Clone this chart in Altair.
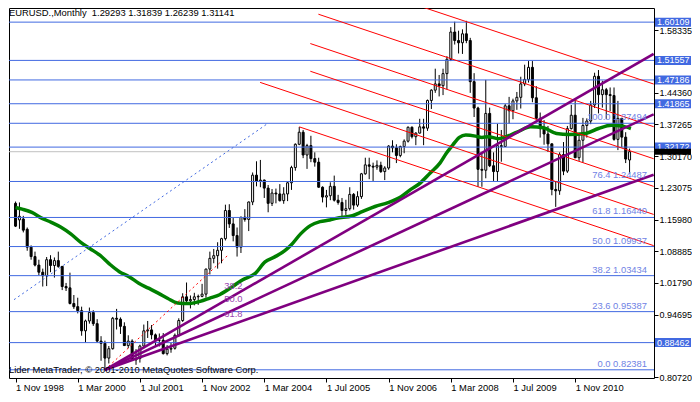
import altair as alt
import pandas as pd

FONT = "Liberation Sans"

# ---- monthly candles, month index 0 = Nov 1998 ... 158 = Jan 2012 ----
opens = [
 1.1960, 1.1590, 1.1610, 1.1380, 1.0980, 1.0770, 1.0580, 1.0420, 1.0340, 1.0700,
 1.0570, 1.0680, 1.0550, 1.0100, 1.0070, 0.9720, 0.9650, 0.9560, 0.9110, 0.9330,
 0.9520, 0.9270, 0.8880, 0.8830, 0.8500, 0.8710, 0.9390, 0.9370, 0.9210, 0.8780,
 0.8880, 0.8460, 0.8490, 0.8770, 0.9110, 0.9130, 0.9020, 0.8900, 0.8900, 0.8600,
 0.8700, 0.8720, 0.9010, 0.9340, 0.9870, 0.9780, 0.9810, 0.9870, 0.9880, 0.9930,
 1.0490, 1.0730, 1.0790, 1.0910, 1.1170, 1.1800, 1.1500, 1.1240, 1.0980, 1.1650,
 1.1600, 1.1990, 1.2590, 1.2460, 1.2480, 1.2300, 1.1960, 1.2190, 1.2170, 1.2020,
 1.2170, 1.2420, 1.2760, 1.3280, 1.3550, 1.3040, 1.3250, 1.2960, 1.2880, 1.2320,
 1.2100, 1.2130, 1.2340, 1.2030, 1.1980, 1.1800, 1.1840, 1.2160, 1.1920, 1.2110,
 1.2620, 1.2820, 1.2790, 1.2770, 1.2810, 1.2670, 1.2750, 1.3240, 1.3200, 1.3030,
 1.3230, 1.3350, 1.3660, 1.3450, 1.3530, 1.3670, 1.3640, 1.4260, 1.4490, 1.4630,
 1.4590, 1.4860, 1.5180, 1.5790, 1.5600, 1.5550, 1.5750, 1.5600, 1.4680, 1.4090,
 1.2720, 1.2700, 1.3970, 1.2800, 1.2670, 1.3250, 1.3230, 1.4140, 1.4030, 1.4250,
 1.4330, 1.4630, 1.4730, 1.5000, 1.4320, 1.3860, 1.3630, 1.3510, 1.3290, 1.2270,
 1.2240, 1.3050, 1.2680, 1.3630, 1.3930, 1.2980, 1.3370, 1.3700, 1.3800, 1.4160,
 1.4800, 1.4390, 1.4500, 1.4390, 1.4370, 1.3390, 1.3860, 1.3440, 1.29293]
highs = [
 1.2000, 1.1980, 1.1680, 1.1420, 1.1020, 1.0880, 1.0700, 1.0500, 1.0760, 1.0800,
 1.0750, 1.0880, 1.0560, 1.0180, 1.0410, 0.9910, 0.9850, 0.9650, 0.9360, 0.9630,
 0.9570, 0.9370, 0.8990, 0.8890, 0.8770, 0.9420, 0.9600, 0.9410, 0.9300, 0.9010,
 0.8920, 0.8700, 0.8800, 0.9250, 0.9330, 0.9240, 0.9050, 0.9050, 0.9060, 0.8790,
 0.8840, 0.9050, 0.9390, 0.9950, 1.0190, 0.9900, 0.9960, 0.9920, 1.0160, 1.0500,
 1.0880, 1.0940, 1.1090, 1.1190, 1.1930, 1.1940, 1.1640, 1.1420, 1.1660, 1.1830,
 1.2000, 1.2650, 1.2900, 1.2930, 1.2490, 1.2370, 1.2280, 1.2290, 1.2390, 1.2320,
 1.2440, 1.2800, 1.3300, 1.3667, 1.3600, 1.3290, 1.3470, 1.3100, 1.2980, 1.2340,
 1.2260, 1.2430, 1.2580, 1.2150, 1.2080, 1.2040, 1.2320, 1.2190, 1.2230, 1.2640,
 1.2980, 1.2980, 1.2870, 1.2920, 1.2890, 1.2790, 1.3260, 1.3370, 1.3280, 1.3250,
 1.3390, 1.3680, 1.3680, 1.3550, 1.3850, 1.3850, 1.4280, 1.4510, 1.4970, 1.4830,
 1.4970, 1.5250, 1.5900, 1.6020, 1.5820, 1.5850, 1.6040, 1.5660, 1.4870, 1.4120,
 1.3080, 1.4720, 1.4100, 1.3100, 1.3740, 1.3600, 1.4180, 1.4340, 1.4300, 1.4450,
 1.4790, 1.5060, 1.5140, 1.5140, 1.4580, 1.3990, 1.3820, 1.3690, 1.3300, 1.2440,
 1.3100, 1.3330, 1.3690, 1.4160, 1.4280, 1.3500, 1.3870, 1.3860, 1.4250, 1.4880,
 1.4940, 1.4700, 1.4540, 1.4550, 1.4550, 1.4250, 1.3870, 1.3550, 1.31839]
lows = [
 1.1430, 1.1390, 1.1310, 1.0900, 1.0700, 1.0550, 1.0350, 1.0100, 1.0110, 1.0420,
 1.0300, 1.0520, 1.0020, 1.0000, 0.9700, 0.9600, 0.9500, 0.9000, 0.8850, 0.9270,
 0.9220, 0.8850, 0.8440, 0.8238, 0.8380, 0.8690, 0.9140, 0.9040, 0.8770, 0.8720,
 0.8440, 0.8350, 0.8400, 0.8720, 0.8950, 0.8920, 0.8770, 0.8760, 0.8580, 0.8560,
 0.8620, 0.8690, 0.8980, 0.9310, 0.9690, 0.9610, 0.9680, 0.9690, 0.9860, 0.9850,
 1.0370, 1.0620, 1.0500, 1.0620, 1.1130, 1.1410, 1.1110, 1.0770, 1.0850, 1.1550,
 1.1340, 1.1920, 1.2340, 1.2320, 1.2080, 1.1760, 1.1900, 1.1960, 1.2000, 1.1950,
 1.2010, 1.2260, 1.2690, 1.3260, 1.2970, 1.2730, 1.2880, 1.2780, 1.2310, 1.1980,
 1.1870, 1.2030, 1.2000, 1.1930, 1.1640, 1.1700, 1.1800, 1.1820, 1.1880, 1.2060,
 1.2600, 1.2500, 1.2460, 1.2710, 1.2640, 1.2480, 1.2710, 1.3100, 1.2860, 1.2990,
 1.3080, 1.3320, 1.3410, 1.3260, 1.3520, 1.3260, 1.3580, 1.4070, 1.4430, 1.4350,
 1.4380, 1.4510, 1.5140, 1.5510, 1.5310, 1.5300, 1.5540, 1.4430, 1.3890, 1.2330,
 1.2330, 1.2520, 1.2770, 1.2460, 1.2460, 1.2890, 1.3220, 1.3740, 1.3840, 1.4050,
 1.4080, 1.4580, 1.4660, 1.4220, 1.3860, 1.3430, 1.3270, 1.3110, 1.2140, 1.1880,
 1.2150, 1.2590, 1.2640, 1.3610, 1.2970, 1.2910, 1.2870, 1.3430, 1.3730, 1.4090,
 1.3970, 1.4100, 1.3840, 1.4020, 1.3360, 1.3150, 1.3210, 1.2860, 1.26239]
closes = [
 1.1450, 1.1670, 1.1360, 1.0980, 1.0770, 1.0580, 1.0420, 1.0340, 1.0700, 1.0570,
 1.0680, 1.0550, 1.0100, 1.0070, 0.9720, 0.9650, 0.9560, 0.9110, 0.9330, 0.9520,
 0.9270, 0.8880, 0.8830, 0.8500, 0.8710, 0.9390, 0.9370, 0.9210, 0.8780, 0.8880,
 0.8460, 0.8490, 0.8770, 0.9110, 0.9130, 0.9020, 0.8900, 0.8900, 0.8600, 0.8700,
 0.8720, 0.9010, 0.9340, 0.9870, 0.9780, 0.9810, 0.9870, 0.9880, 0.9930, 1.0490,
 1.0730, 1.0790, 1.0910, 1.1170, 1.1800, 1.1500, 1.1240, 1.0980, 1.1650, 1.1600,
 1.1990, 1.2590, 1.2460, 1.2480, 1.2300, 1.1960, 1.2190, 1.2170, 1.2020, 1.2170,
 1.2420, 1.2760, 1.3280, 1.3550, 1.3040, 1.3250, 1.2960, 1.2880, 1.2320, 1.2100,
 1.2130, 1.2340, 1.2030, 1.1980, 1.1800, 1.1840, 1.2160, 1.1920, 1.2110, 1.2620,
 1.2820, 1.2790, 1.2770, 1.2810, 1.2670, 1.2750, 1.3240, 1.3200, 1.3030, 1.3230,
 1.3350, 1.3660, 1.3450, 1.3530, 1.3670, 1.3640, 1.4260, 1.4490, 1.4630, 1.4590,
 1.4860, 1.5180, 1.5790, 1.5600, 1.5550, 1.5750, 1.5600, 1.4680, 1.4090, 1.2720,
 1.2700, 1.3970, 1.2800, 1.2670, 1.3250, 1.3230, 1.4140, 1.4030, 1.4250, 1.4330,
 1.4630, 1.4730, 1.5000, 1.4320, 1.3860, 1.3630, 1.3510, 1.3290, 1.2270, 1.2240,
 1.3050, 1.2680, 1.3630, 1.3930, 1.2980, 1.3370, 1.3700, 1.3800, 1.4160, 1.4800,
 1.4390, 1.4500, 1.4390, 1.4370, 1.3390, 1.3860, 1.3440, 1.2950, 1.31141]

# ---- moving average ----
ma_month = [0, 1.7, 4.2, 6.7, 9.2, 11.7, 14.2, 16.7, 19.2, 21.7, 24.2, 26.7, 29.2, 31.7,
            34.2, 36.7, 39.2, 41.7, 44.2, 47.5, 50, 52.5, 55.85, 58.35, 61.7, 64.2, 66.7,
            69.2, 70.85, 73.35, 75.85, 78.35, 80.85, 82.5, 86.7, 89.2, 92.5, 95.85, 99.2,
            101.7, 104.2, 106.7, 109.2, 110.85, 112.5, 114.2, 115.85, 118.35, 120, 121.7,
            124.2, 129.2, 132.5, 135.85, 139.2, 142.5, 146.7, 150, 153.35, 155.85, 158.35]
ma_price = [1.1867, 1.1829, 1.1756, 1.1630, 1.1535, 1.1425, 1.1277, 1.1094, 1.0946, 1.0800,
            1.0601, 1.0431, 1.0321, 1.0173, 1.0063, 0.9952, 0.9831, 0.9731, 0.9718, 0.9769,
            0.9842, 0.9917, 1.0100, 1.0248, 1.0394, 1.0652, 1.0763, 1.0895, 1.1021, 1.1277,
            1.1462, 1.1551, 1.1586, 1.1624, 1.1683, 1.1772, 1.1889, 1.1977, 1.2109, 1.2271,
            1.2419, 1.2639, 1.2860, 1.3081, 1.3264, 1.3434, 1.3485, 1.3463, 1.3434, 1.3450,
            1.3406, 1.3560, 1.3670, 1.3648, 1.3522, 1.3500, 1.3522, 1.3633, 1.3706, 1.3692,
            1.3633]

# ---- horizontal lines ----
price_lines = [1.60109, 1.51557, 1.47186, 1.41865, 1.32172, 0.88462]
fib_levels = ["100.0", "76.4", "61.8", "50.0", "38.2", "23.6", "0.0"]
fib_prices = [1.37494, 1.24487, 1.16440, 1.09937, 1.03434, 0.95387, 0.82381]
bid_price = 1.31141

# ---- red parallel trend lines: start (month, price) -> far-right price ----
red_start_m = [101.9, 77.93, 75.85, 75.85, 62.93, 73.0]
red_start_p = [1.6430, 1.6188, 1.5532, 1.4913, 1.4664, 1.3670]
red_end_m = 164.2
red_end_p = [1.4627, 1.3673, 1.2957, 1.2339, 1.1712, 1.1014]

# ---- Fibonacci fan ----
fan_origin = (23, 0.82381)
fan_names = ["38.2", "50.0", "61.8"]
fan_end_m = 164.2
fan_end_p = [1.530, 1.395, 1.260]
fan_label_m = 53.7
fan_label_p = [1.0122, 0.9813, 0.9489]
fan_trend_end = (55.0, 1.0829)

# ---- blue dotted line ----
blue_dot = [(-0.4, 0.9806), (64.6, 1.3728)]

x_tick_months = [0, 16, 32, 48, 64, 80, 96, 112, 128, 144]
x_tick_labels = ["1 Nov 1998", "1 Mar 2000", "1 Jul 2001", "1 Nov 2002", "1 Mar 2004",
                 "1 Jul 2005", "1 Nov 2006", "1 Mar 2008", "1 Jul 2009", "1 Nov 2010"]
y_tick_values = [1.58335, 1.44360, 1.37265, 1.30170, 1.23075, 1.15980,
                 1.08885, 1.01790, 0.94695, 0.80720]

title_text = "EURUSD.,Monthly\u00a0 1.29293 1.31839 1.26239 1.31141"
copyright_text = "Lider MetaTrader, \u00a9 2001-2010 MetaQuotes Software Corp."

# ---------------------------------------------------------------
W, H = 645, 370
XMIN, XMAX = -0.4, 163.0
YMIN, YMAX = 0.8055, 1.6327
xs = alt.Scale(domain=[XMIN, XMAX], nice=False, zero=False)
ys = alt.Scale(domain=[YMIN, YMAX], nice=False, zero=False)
FS = 9.4

label_expr = " : ".join(
    f"datum.value == {m} ? '{s}'" for m, s in zip(x_tick_months, x_tick_labels)) + " : ''"

xaxis = alt.Axis(values=x_tick_months, labelExpr=label_expr, labelAlign="left",
                 labelFlush=False, labelOverlap=False, tickSize=4, tickColor="black",
                 labelColor="black", labelFont=FONT, labelFontSize=FS, labelPadding=1,
                 domain=False, grid=False, title=None)
yaxis = alt.Axis(orient="right", values=y_tick_values, format=".5f", tickSize=4,
                 tickColor="black", labelColor="black", labelFont=FONT, labelFontSize=9,
                 labelPadding=1, labelFlush=False, labelOverlap=False,
                 domain=False, grid=False, title=None)

candles = pd.DataFrame({"m": list(range(len(closes))), "o": opens, "h": highs,
                        "l": lows, "c": closes})
ma_df = pd.DataFrame({"m": ma_month, "p": ma_price})
hl_df = pd.DataFrame({"p": price_lines + fib_prices})
fib_df = pd.DataFrame({"p": fib_prices,
                       "t": [f"{a} {b:.5f}" for a, b in zip(fib_levels, fib_prices)]})
box_df = pd.DataFrame({"p": price_lines, "t": [f"{v:.5f}" for v in price_lines]})
red_df = pd.DataFrame({"m1": red_start_m, "p1": red_start_p,
                       "m2": [red_end_m] * len(red_end_p), "p2": red_end_p})
fan_df = pd.DataFrame({"m1": [fan_origin[0]] * 3, "p1": [fan_origin[1]] * 3,
                       "m2": [fan_end_m] * 3, "p2": fan_end_p})
fanlab_df = pd.DataFrame({"m": [fan_label_m] * 3, "p": fan_label_p, "t": fan_names})
rdot_df = pd.DataFrame({"m1": [fan_origin[0]], "p1": [fan_origin[1]],
                        "m2": [fan_trend_end[0]], "p2": [fan_trend_end[1]]})
bdot_df = pd.DataFrame({"m1": [blue_dot[0][0]], "p1": [blue_dot[0][1]],
                        "m2": [blue_dot[1][0]], "p2": [blue_dot[1][1]]})
bid_df = pd.DataFrame({"p": [bid_price], "t": ["1.31141"]})
txt_df = pd.DataFrame({"t": [title_text]})
cp_df = pd.DataFrame({"t": [copyright_text]})

X = lambda f: alt.X(f, type="quantitative", scale=xs, axis=xaxis)
Y = lambda f: alt.Y(f, type="quantitative", scale=ys, axis=yaxis)

bidline = alt.Chart(bid_df).mark_rule(color="#C0C0C0", strokeWidth=1).encode(y=Y("p"))

wicks = alt.Chart(candles).mark_rule(color="black", strokeWidth=1).encode(
    x=X("m"), y=Y("l"), y2="h:Q")

bodies = alt.Chart(candles).mark_bar(size=2, stroke="black", strokeWidth=1).encode(
    x=X("m"), y=Y("o"), y2="c:Q",
    fill=alt.condition("datum.c >= datum.o", alt.value("white"), alt.value("black")))

ma = alt.Chart(ma_df).mark_line(color="#008000", strokeWidth=3.5,
                                interpolate="monotone").encode(x=X("m"), y=Y("p"))

hlines = alt.Chart(hl_df).mark_rule(color="#4169E1", strokeWidth=1).encode(y=Y("p"))

def seg(df, **kw):
    return alt.Chart(df).mark_rule(clip=True, **kw).encode(
        x=X("m1"), y=Y("p1"), x2="m2:Q", y2="p2:Q")

bdot = seg(bdot_df, color="#4169E1", strokeWidth=1, strokeDash=[2, 3])
rdot = seg(rdot_df, color="#FF0000", strokeWidth=1, strokeDash=[2, 3])
reds = seg(red_df, color="#FF0000", strokeWidth=1)
fans = seg(fan_df, color="#800080", strokeWidth=2.6)

fib_text = alt.Chart(fib_df).mark_text(align="right", baseline="bottom", dy=-1,
                                       font=FONT, fontSize=FS, color="#6F82E4").encode(
    x=alt.value(W - 7), y=Y("p"), text="t:N")

fan_text = alt.Chart(fanlab_df).mark_text(align="left", baseline="middle", font=FONT,
                                          fontSize=FS, color="#9A46B0").encode(
    x=X("m"), y=Y("p"), text="t:N")

boxes = alt.Chart(box_df).mark_rect(color="#4169E1", yOffset=-4.5, y2Offset=4.5).encode(
    y=Y("p"), y2="p:Q", x=alt.value(W + 1), x2=alt.value(W + 37))
box_text = alt.Chart(box_df).mark_text(align="left", baseline="middle", font=FONT,
                                       fontSize=9, color="white").encode(
    y=Y("p"), x=alt.value(W + 3), text="t:N")
bidbox = alt.Chart(bid_df).mark_rect(color="black", yOffset=-3, y2Offset=3).encode(
    y=Y("p"), y2="p:Q", x=alt.value(W + 1), x2=alt.value(W + 37))

title = alt.Chart(txt_df).mark_text(align="left", baseline="top", font=FONT, fontSize=FS,
                                    color="black").encode(
    x=alt.value(0), y=alt.value(1), text="t:N")
cpr = alt.Chart(cp_df).mark_text(align="left", baseline="middle", font=FONT, fontSize=FS,
                                 color="black").encode(
    x=alt.value(0), y=alt.value(H - 8), text="t:N")

chart = alt.layer(
    bidline, wicks, bodies, ma, hlines, bdot, rdot, reds, fans,
    fib_text, fan_text, boxes, box_text, bidbox, title, cpr
).properties(
    width=W, height=H, background="white",
    padding={"left": 0, "top": 0, "right": 0, "bottom": 0}
).configure_view(stroke="black", strokeWidth=1)

chart.save("out.html", embed_options={"renderer": "svg", "actions": False})
